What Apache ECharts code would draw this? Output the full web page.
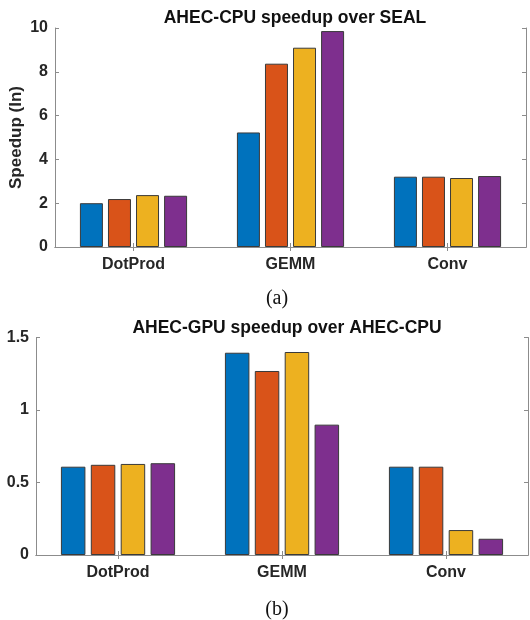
<!DOCTYPE html>
<html>
<head>
<meta charset="utf-8">
<script src="https://cdn.jsdelivr.net/npm/echarts@6/dist/echarts.min.js"></script>
<style>
html,body{margin:0;padding:0;background:#fff;}
#c{width:530px;height:620px;}
</style>
</head>
<body>
<div id="c"></div>
<script>
var categories = ['DotProd', 'GEMM', 'Conv'];
var cpuS1 = [2.00, 5.23, 3.21];
var cpuS2 = [2.19, 8.37, 3.21];
var cpuS3 = [2.37, 9.10, 3.15];
var cpuS4 = [2.34, 9.86, 3.24];
var gpuS1 = [0.609, 1.395, 0.609];
var gpuS2 = [0.622, 1.269, 0.609];
var gpuS3 = [0.628, 1.400, 0.172];
var gpuS4 = [0.633, 0.899, 0.112];
var colors = ['#0072BD', '#D95319', '#EDB120', '#7E2F8E'];
var titleA = 'AHEC-CPU speedup over SEAL';
var titleB = 'AHEC-GPU speedup over AHEC-CPU';
var yNameA = 'Speedup (In)';
var captionA = '(a)';
var captionB = '(b)';

var FONT = '"Liberation Sans", Arial, sans-serif';
var axisCol = '#8c8c8c';
var textCol = '#262626';

function catAxis(grid, pos, showLabel) {
  return {
    type: 'category', gridIndex: grid, position: pos, data: categories,
    axisLine: {show: true, lineStyle: {color: axisCol, width: 1}},
    axisTick: {show: true, inside: true, alignWithLabel: true, length: 4, lineStyle: {color: axisCol}},
    axisLabel: {show: showLabel, color: textCol, fontFamily: FONT, fontWeight: 'bold', fontSize: 16, margin: 10},
    splitLine: {show: false}
  };
}
function valAxis(grid, pos, min, max, interval, showLabel, fmt, name) {
  return {
    type: 'value', gridIndex: grid, position: pos, min: min, max: max, interval: interval,
    name: name || '', nameLocation: 'middle', nameGap: 30, nameMoveOverlap: false,
    nameTextStyle: {color: textCol, fontFamily: FONT, fontWeight: 'bold', fontSize: 17},
    axisLine: {show: true, lineStyle: {color: axisCol, width: 1}},
    axisTick: {show: true, inside: true, length: 4, lineStyle: {color: axisCol}},
    axisLabel: {show: showLabel, color: textCol, fontFamily: FONT, fontWeight: 'bold', fontSize: 16, margin: 7, formatter: fmt},
    splitLine: {show: false}
  };
}
function bars(data, idx, axisIdx, bw) {
  return {
    type: 'bar', data: data, xAxisIndex: axisIdx, yAxisIndex: axisIdx,
    barWidth: bw, barGap: '22%',
    itemStyle: {color: colors[idx], borderColor: '#3a3a3a', borderWidth: 1},
    silent: true, animation: false
  };
}

var chart = echarts.init(document.getElementById('c'), null, {renderer: 'canvas'});
chart.setOption({
  backgroundColor: '#fff',
  animation: false,
  title: [
    {text: titleA, left: 290, top: 4, textAlign: 'center',
     textStyle: {fontFamily: FONT, fontWeight: 'bold', fontSize: 17.5, color: '#111'}},
    {text: titleB, left: 282, top: 314, textAlign: 'center',
     textStyle: {fontFamily: FONT, fontWeight: 'bold', fontSize: 17.5, color: '#111'}},
    {text: captionA, left: 272, top: 284, textAlign: 'center',
     textStyle: {fontFamily: '"Liberation Serif", "Times New Roman", serif', fontWeight: 'normal', fontSize: 20, color: '#111'}},
    {text: captionB, left: 272, top: 595, textAlign: 'center',
     textStyle: {fontFamily: '"Liberation Serif", "Times New Roman", serif', fontWeight: 'normal', fontSize: 20, color: '#111'}}
  ],
  grid: [
    {left: 55, top: 28, width: 471, height: 219, outerBoundsMode: 'none', containLabel: false},
    {left: 36, top: 337.5, width: 492, height: 217.5, outerBoundsMode: 'none', containLabel: false}
  ],
  xAxis: [
    catAxis(0, 'bottom', true),
    catAxis(0, 'top', false),
    catAxis(1, 'bottom', true),
    catAxis(1, 'top', false)
  ],
  yAxis: [
    valAxis(0, 'left', 0, 10, 2, true, function(v){return String(v);}, yNameA),
    valAxis(0, 'right', 0, 10, 2, false),
    valAxis(1, 'left', 0, 1.5, 0.5, true, function(v){return String(v);}),
    valAxis(1, 'right', 0, 1.5, 0.5, false)
  ],
  series: [
    bars(cpuS1, 0, 0, 23), bars(cpuS2, 1, 0, 23), bars(cpuS3, 2, 0, 23), bars(cpuS4, 3, 0, 23),
    bars(gpuS1, 0, 2, 24.5), bars(gpuS2, 1, 2, 24.5), bars(gpuS3, 2, 2, 24.5), bars(gpuS4, 3, 2, 24.5)
  ]
});
</script>
</body>
</html>
